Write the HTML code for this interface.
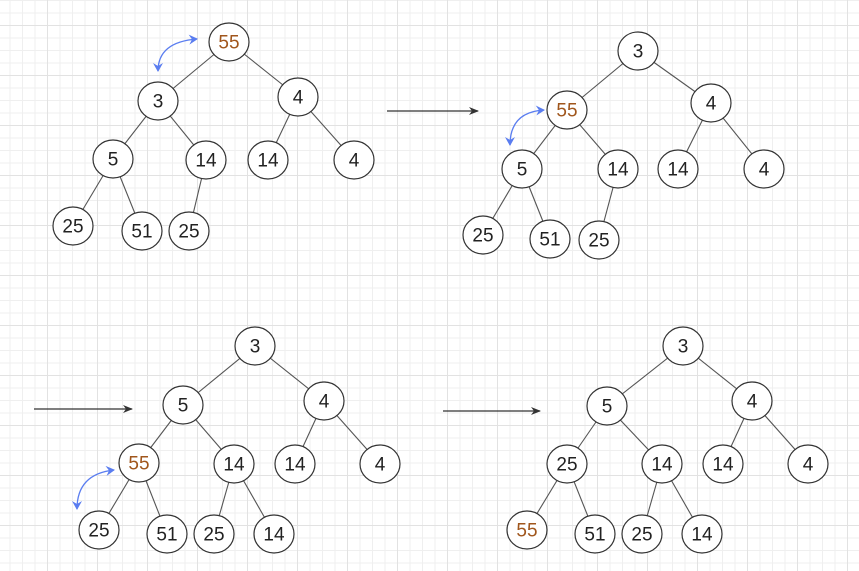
<!DOCTYPE html>
<html><head><meta charset="utf-8"><style>
html,body{margin:0;padding:0;background:#fff}
svg{display:block}
text{font-family:"Liberation Sans","DejaVu Sans",sans-serif;font-size:19px;text-anchor:middle;dominant-baseline:central;fill:#222}
</style></head><body>
<svg width="859" height="571" viewBox="0 0 859 571" xmlns="http://www.w3.org/2000/svg">
<defs>
<pattern id="minor" width="12.5" height="12.5" patternUnits="userSpaceOnUse" x="-3" y="0">
<path d="M0 0.5H12.5M0.5 0V12.5" stroke="#efefef" stroke-width="1" fill="none"/>
</pattern>
<pattern id="major" width="50" height="50" patternUnits="userSpaceOnUse" x="-3" y="25">
<path d="M0 0.5H50M0.5 0V50" stroke="#e2e2e2" stroke-width="1" fill="none"/>
</pattern>
<marker id="ar" markerWidth="10" markerHeight="8" refX="9" refY="4" orient="auto" markerUnits="userSpaceOnUse"><path d="M0 0L10 4L0 8L3 4Z" fill="#333"/></marker>
<marker id="bl" markerWidth="10" markerHeight="10" refX="8" refY="5" orient="auto-start-reverse" markerUnits="userSpaceOnUse"><path d="M0 0L9 5L0 10L3 5Z" fill="#5a7df0"/></marker>
</defs>
<rect width="859" height="571" fill="url(#minor)"/>
<rect width="859" height="571" fill="url(#major)"/>
<g stroke="#333" stroke-width="1.2" fill="none">
<line x1="387" y1="111" x2="478" y2="111" marker-end="url(#ar)"/>
<line x1="34" y1="409" x2="132" y2="409" marker-end="url(#ar)"/>
<line x1="443" y1="411" x2="540" y2="411" marker-end="url(#ar)"/>
</g>
<g stroke="#5a7df0" stroke-width="1.3" fill="none">
<path d="M158 71 Q158 42 197 39" marker-end="url(#bl)" marker-start="url(#bl)"/>
<path d="M510 145 Q510 112 544 110" marker-end="url(#bl)" marker-start="url(#bl)"/>
<path d="M77 509 Q77 474 114 470" marker-end="url(#bl)" marker-start="url(#bl)"/>
</g>
<g stroke="#555" stroke-width="1.1">
<line x1="229" y1="42" x2="158" y2="101"/><line x1="229" y1="42" x2="298" y2="97"/>
<line x1="158" y1="101" x2="113" y2="159"/><line x1="158" y1="101" x2="206" y2="160"/>
<line x1="298" y1="97" x2="268" y2="160"/><line x1="298" y1="97" x2="354" y2="160"/>
<line x1="113" y1="159" x2="73" y2="226"/><line x1="113" y1="159" x2="142" y2="231"/>
<line x1="206" y1="160" x2="189" y2="231"/>
<line x1="638" y1="51" x2="567" y2="110"/><line x1="638" y1="51" x2="711" y2="103"/>
<line x1="567" y1="110" x2="522" y2="169"/><line x1="567" y1="110" x2="618" y2="169"/>
<line x1="711" y1="103" x2="678" y2="169"/><line x1="711" y1="103" x2="764" y2="169"/>
<line x1="522" y1="169" x2="483" y2="235"/><line x1="522" y1="169" x2="550" y2="239"/>
<line x1="618" y1="169" x2="599" y2="240"/>
<line x1="255" y1="346" x2="183" y2="405"/><line x1="255" y1="346" x2="324" y2="401"/>
<line x1="183" y1="405" x2="139" y2="463"/><line x1="183" y1="405" x2="234" y2="464"/>
<line x1="324" y1="401" x2="295" y2="464"/><line x1="324" y1="401" x2="380" y2="464"/>
<line x1="139" y1="463" x2="99" y2="530"/><line x1="139" y1="463" x2="167" y2="534"/>
<line x1="234" y1="464" x2="214" y2="534"/><line x1="234" y1="464" x2="274" y2="534"/>
<line x1="683" y1="346" x2="607" y2="406"/><line x1="683" y1="346" x2="752" y2="401"/>
<line x1="607" y1="406" x2="567" y2="464"/><line x1="607" y1="406" x2="662" y2="464"/>
<line x1="752" y1="401" x2="723" y2="464"/><line x1="752" y1="401" x2="808" y2="464"/>
<line x1="567" y1="464" x2="527" y2="530"/><line x1="567" y1="464" x2="595" y2="534"/>
<line x1="662" y1="464" x2="642" y2="534"/><line x1="662" y1="464" x2="702" y2="534"/>
</g>
<g fill="#fff" stroke="#333" stroke-width="1.2">
<ellipse cx="229" cy="42" rx="20" ry="19"/><ellipse cx="158" cy="101" rx="20" ry="19"/><ellipse cx="298" cy="97" rx="20" ry="19"/>
<ellipse cx="113" cy="159" rx="20" ry="19"/><ellipse cx="206" cy="160" rx="20" ry="19"/><ellipse cx="268" cy="160" rx="20" ry="19"/><ellipse cx="354" cy="160" rx="20" ry="19"/>
<ellipse cx="73" cy="226" rx="20" ry="19"/><ellipse cx="142" cy="231" rx="20" ry="19"/><ellipse cx="189" cy="231" rx="20" ry="19"/>
<ellipse cx="638" cy="51" rx="20" ry="19"/><ellipse cx="567" cy="110" rx="20" ry="19"/><ellipse cx="711" cy="103" rx="20" ry="19"/>
<ellipse cx="522" cy="169" rx="20" ry="19"/><ellipse cx="618" cy="169" rx="20" ry="19"/><ellipse cx="678" cy="169" rx="20" ry="19"/><ellipse cx="764" cy="169" rx="20" ry="19"/>
<ellipse cx="483" cy="235" rx="20" ry="19"/><ellipse cx="550" cy="239" rx="20" ry="19"/><ellipse cx="599" cy="240" rx="20" ry="19"/>
<ellipse cx="255" cy="346" rx="20" ry="19"/><ellipse cx="183" cy="405" rx="20" ry="19"/><ellipse cx="324" cy="401" rx="20" ry="19"/>
<ellipse cx="139" cy="463" rx="20" ry="19"/><ellipse cx="234" cy="464" rx="20" ry="19"/><ellipse cx="295" cy="464" rx="20" ry="19"/><ellipse cx="380" cy="464" rx="20" ry="19"/>
<ellipse cx="99" cy="530" rx="20" ry="19"/><ellipse cx="167" cy="534" rx="20" ry="19"/><ellipse cx="214" cy="534" rx="20" ry="19"/><ellipse cx="274" cy="534" rx="20" ry="19"/>
<ellipse cx="683" cy="346" rx="20" ry="19"/><ellipse cx="607" cy="406" rx="20" ry="19"/><ellipse cx="752" cy="401" rx="20" ry="19"/>
<ellipse cx="567" cy="464" rx="20" ry="19"/><ellipse cx="662" cy="464" rx="20" ry="19"/><ellipse cx="723" cy="464" rx="20" ry="19"/><ellipse cx="808" cy="464" rx="20" ry="19"/>
<ellipse cx="527" cy="530" rx="20" ry="19"/><ellipse cx="595" cy="534" rx="20" ry="19"/><ellipse cx="642" cy="534" rx="20" ry="19"/><ellipse cx="702" cy="534" rx="20" ry="19"/>
</g>
<g>
<text x="229" y="43" style="fill:#a0561c">55</text><text x="158" y="102">3</text><text x="298" y="98">4</text>
<text x="113" y="160">5</text><text x="206" y="161">14</text><text x="268" y="161">14</text><text x="354" y="161">4</text>
<text x="73" y="227">25</text><text x="142" y="232">51</text><text x="189" y="232">25</text>
<text x="638" y="52">3</text><text x="567" y="111" style="fill:#a0561c">55</text><text x="711" y="104">4</text>
<text x="522" y="170">5</text><text x="618" y="170">14</text><text x="678" y="170">14</text><text x="764" y="170">4</text>
<text x="483" y="236">25</text><text x="550" y="240">51</text><text x="599" y="241">25</text>
<text x="255" y="347">3</text><text x="183" y="406">5</text><text x="324" y="402">4</text>
<text x="139" y="464" style="fill:#a0561c">55</text><text x="234" y="465">14</text><text x="295" y="465">14</text><text x="380" y="465">4</text>
<text x="99" y="531">25</text><text x="167" y="535">51</text><text x="214" y="535">25</text><text x="274" y="535">14</text>
<text x="683" y="347">3</text><text x="607" y="407">5</text><text x="752" y="402">4</text>
<text x="567" y="465">25</text><text x="662" y="465">14</text><text x="723" y="465">14</text><text x="808" y="465">4</text>
<text x="527" y="531" style="fill:#a0561c">55</text><text x="595" y="535">51</text><text x="642" y="535">25</text><text x="702" y="535">14</text>
</g>
</svg>
</body></html>
